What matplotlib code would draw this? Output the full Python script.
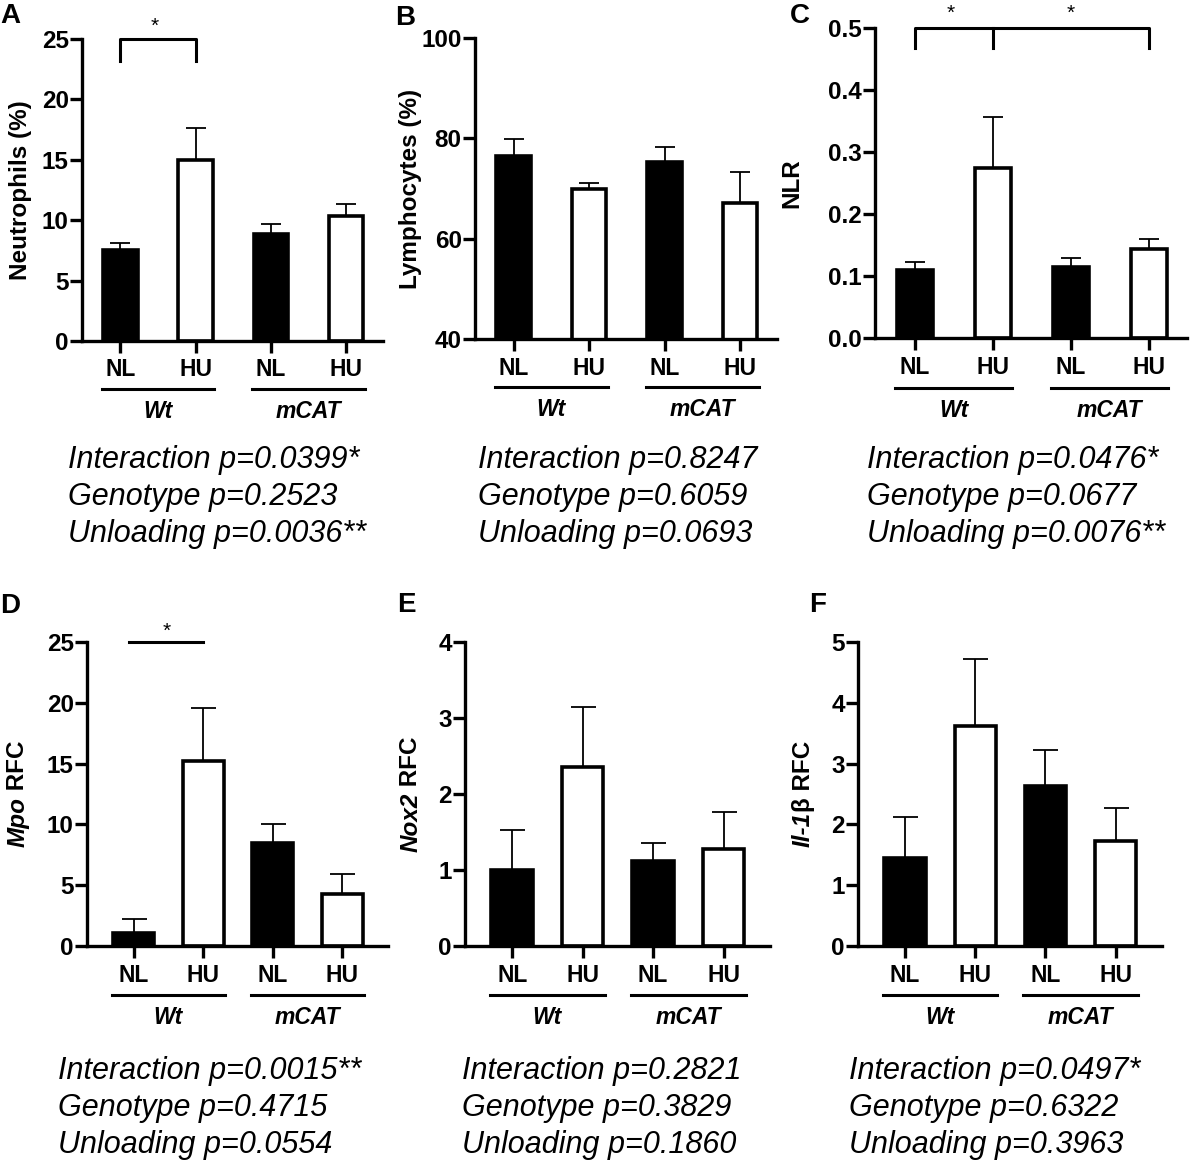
import numpy as np
import matplotlib.pyplot as plt
from matplotlib import transforms

plt.rcParams['font.family'] = 'Liberation Sans'

# data (mean and upper SEM)
conditions = ['NL', 'HU', 'NL', 'HU']
genotypes = ['Wt', 'mCAT']
bar_colors = ['black', 'white', 'black', 'white']

neut_mean = [7.5, 15.0, 8.85, 10.35]
neut_sem = [0.6, 2.6, 0.8, 0.95]
lymph_mean = [76.5, 70.0, 75.3, 67.2]
lymph_sem = [3.3, 1.1, 2.9, 6.1]
nlr_mean = [0.109, 0.275, 0.115, 0.143]
nlr_sem = [0.013, 0.082, 0.014, 0.017]
mpo_mean = [1.1, 15.2, 8.5, 4.3]
mpo_sem = [1.1, 4.4, 1.55, 1.65]
nox2_mean = [1.0, 2.36, 1.12, 1.27]
nox2_sem = [0.52, 0.78, 0.24, 0.49]
il1b_mean = [1.45, 3.62, 2.63, 1.73]
il1b_sem = [0.67, 1.1, 0.59, 0.54]

stats_A = ['Interaction p=0.0399*', 'Genotype p=0.2523', 'Unloading p=0.0036**']
stats_B = ['Interaction p=0.8247', 'Genotype p=0.6059', 'Unloading p=0.0693']
stats_C = ['Interaction p=0.0476*', 'Genotype p=0.0677', 'Unloading p=0.0076**']
stats_D = ['Interaction p=0.0015**', 'Genotype p=0.4715', 'Unloading p=0.0554']
stats_E = ['Interaction p=0.2821', 'Genotype p=0.3829', 'Unloading p=0.1860']
stats_F = ['Interaction p=0.0497*', 'Genotype p=0.6322', 'Unloading p=0.3963']

W, H = 1192, 1169
fig = plt.figure(figsize=(W / 100, H / 100), dpi=100)
renderer = fig.canvas.get_renderer()


def rect(left, right, top, bottom):
    # pixel box -> figure fraction
    return [left / W, 1 - bottom / H, (right - left) / W, (bottom - top) / H]


def mixed_ylabel(ax, parts, x_axes):
    # vertical label made of pieces with their own style, centred on the axis
    texts = []
    for s, style in parts:
        t = ax.text(x_axes, 0.5, s, transform=ax.transAxes, rotation=90,
                    rotation_mode='anchor', ha='left', va='baseline',
                    fontsize=17.5, fontweight='bold', fontstyle=style)
        texts.append(t)
    lengths = [t.get_window_extent(renderer).height for t in texts]
    offset = -sum(lengths) / 2
    for t, L in zip(texts, lengths):
        t.set_transform(transforms.offset_copy(ax.transAxes, fig=fig, x=0,
                                               y=offset, units='dots'))
        offset += L


def draw_panel(box, means, sems, ylim, yticks, yticklabels, ylabel, ylabel_x,
               xlim, width, capsize):
    ax = fig.add_axes(box)
    x = np.arange(len(means))
    ax.errorbar(x, means, yerr=[np.zeros(len(sems)), sems], fmt='none',
                ecolor='black', elinewidth=1.3, capsize=capsize, capthick=1.3,
                zorder=1)
    ax.bar(x, means, width, color=bar_colors, edgecolor='black',
           linewidth=2.6, zorder=2)
    ax.set_xlim(xlim)
    ax.set_ylim(ylim)
    ax.set_yticks(yticks)
    ax.set_yticklabels(yticklabels, fontsize=17.5, fontweight='bold')
    ax.set_xticks(x)
    ax.set_xticklabels(conditions, fontsize=16.5, fontweight='bold')
    for s in ['top', 'right']:
        ax.spines[s].set_visible(False)
    for s in ['left', 'bottom']:
        ax.spines[s].set_linewidth(2.4)
    ax.tick_params(axis='both', length=8.6, width=2.4, direction='out')
    ax.tick_params(axis='y', pad=1)
    ax.tick_params(axis='x', pad=4)
    if isinstance(ylabel, str):
        ax.set_ylabel(ylabel, fontsize=17.5, fontweight='bold')
        ax.yaxis.set_label_coords(ylabel_x, 0.5)
    else:
        mixed_ylabel(ax, ylabel, ylabel_x - 0.018)

    # genotype underlines and labels
    trans = transforms.blended_transform_factory(ax.transData, ax.transAxes)
    half = width / 2 + 0.02
    for i, g in enumerate(genotypes):
        x0, x1 = 2 * i - half, 2 * i + 1 + half
        ax.plot([x0, x1], [-0.16, -0.16], color='black', lw=2.2,
                transform=trans, clip_on=False)
        ax.text(2 * i + 0.5, -0.256, g, transform=trans, ha='center',
                va='baseline', fontsize=16.5, fontweight='bold',
                fontstyle='italic')
    return ax


top_xlim = (-0.51, 3.49)
bot_xlim = (-0.67, 3.66)

axA = draw_panel(rect(82, 383, 39, 341), neut_mean, neut_sem, (0, 25),
                 [0, 5, 10, 15, 20, 25], ['0', '5', '10', '15', '20', '25'],
                 'Neutrophils (%)', -0.166, top_xlim, 0.46, 7.2)
axB = draw_panel(rect(475, 777, 38, 339), lymph_mean, lymph_sem, (40, 100),
                 [40, 60, 80, 100], ['40', '60', '80', '100'],
                 'Lymphocytes (%)', -0.175, top_xlim, 0.46, 7.2)
axC = draw_panel(rect(875, 1187, 28, 338), nlr_mean, nlr_sem, (0, 0.5),
                 [0, 0.1, 0.2, 0.3, 0.4, 0.5],
                 ['0.0', '0.1', '0.2', '0.3', '0.4', '0.5'],
                 'NLR', -0.23, top_xlim, 0.46, 7.2)
axD = draw_panel(rect(87, 388, 642, 946), mpo_mean, mpo_sem, (0, 25),
                 [0, 5, 10, 15, 20, 25], ['0', '5', '10', '15', '20', '25'],
                 [('Mpo', 'italic'), (' RFC', 'normal')], -0.19, bot_xlim, 0.59, 9)
axE = draw_panel(rect(465, 770, 642, 946), nox2_mean, nox2_sem, (0, 4),
                 [0, 1, 2, 3, 4], ['0', '1', '2', '3', '4'],
                 [('Nox2', 'italic'), (' RFC', 'normal')], -0.138, bot_xlim, 0.59, 9)
axF = draw_panel(rect(858, 1162, 642, 946), il1b_mean, il1b_sem, (0, 5),
                 [0, 1, 2, 3, 4, 5], ['0', '1', '2', '3', '4', '5'],
                 [('Il-1', 'italic'), ('β RFC', 'normal')], -0.14, bot_xlim, 0.59, 9)

# significance brackets
star_size = 15
axA.plot([0, 0, 1, 1], [23.2, 25, 25, 23.2], color='black', lw=2.2, clip_on=False)
axA.text(0.45, 1.023, '*', transform=transforms.blended_transform_factory(
    axA.transData, axA.transAxes), ha='center', va='baseline', fontsize=star_size)

axC.plot([0, 0, 3, 3], [0.468, 0.5, 0.5, 0.468], color='black', lw=2.2, clip_on=False)
axC.plot([1, 1], [0.5, 0.468], color='black', lw=2.2, clip_on=False)
tC = transforms.blended_transform_factory(axC.transData, axC.transAxes)
axC.text(0.46, 1.03, '*', transform=tC, ha='center', va='baseline', fontsize=star_size)
axC.text(2.0, 1.03, '*', transform=tC, ha='center', va='baseline', fontsize=star_size)

axD.plot([-0.07, 1.0], [25, 25], color='black', lw=2.2, clip_on=False)
axD.text(0.47, 1.018, '*', transform=transforms.blended_transform_factory(
    axD.transData, axD.transAxes), ha='center', va='baseline', fontsize=star_size)

# panel letters
letters = ['A', 'B', 'C', 'D', 'E', 'F']
letter_pos = [(0, 23), (395, 25), (790, 23), (0, 613), (397, 612), (809, 612)]
for s, (lx, ly) in zip(letters, letter_pos):
    fig.text(lx / W, 1 - ly / H, s, fontsize=20, fontweight='bold',
             ha='left', va='baseline')

# ANOVA results under each panel
stats = [stats_A, stats_B, stats_C, stats_D, stats_E, stats_F]
stats_pos = [(68, 468), (478, 468), (867, 468), (58, 1079), (462, 1079), (849, 1079)]
for lines, (sx, sy) in zip(stats, stats_pos):
    for k, line in enumerate(lines):
        fig.text(sx / W, 1 - (sy + 37 * k) / H, line, fontsize=22,
                 fontstyle='italic', ha='left', va='baseline')

fig.savefig('out.png', dpi=100)
